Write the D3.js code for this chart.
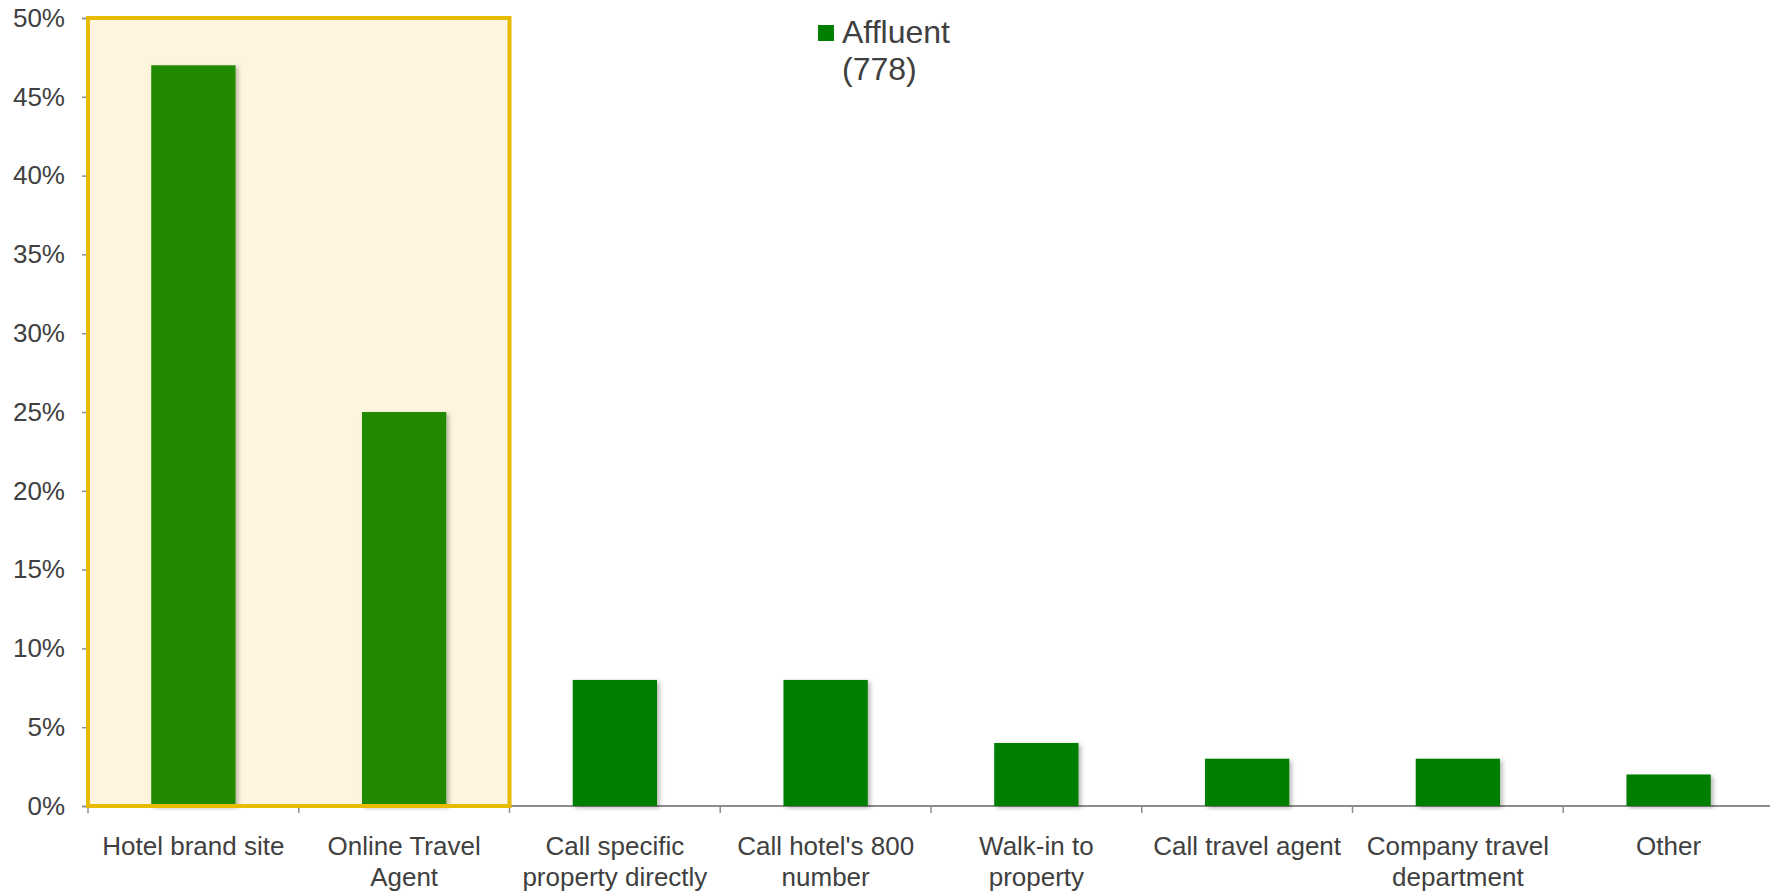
<!DOCTYPE html>
<html>
<head>
<meta charset="utf-8">
<script src="https://cdn.jsdelivr.net/npm/d3@7"></script>
<style>
  html, body { margin: 0; padding: 0; background: #ffffff; }
  svg { display: block; font-family: "Liberation Sans", Arial, sans-serif; }
</style>
</head>
<body>
<svg id="chart" width="1770" height="893"></svg>
<script>
// Booking channel shares for affluent travellers
const categories = [
  "Hotel brand site",
  "Online Travel Agent",
  "Call specific property directly",
  "Call hotel's 800 number",
  "Walk-in to property",
  "Call travel agent",
  "Company travel department",
  "Other"
];
const values = [0.47, 0.25, 0.08, 0.08, 0.04, 0.03, 0.03, 0.02];
const highlighted = ["Hotel brand site", "Online Travel Agent"];
const yTicks = [0, 0.05, 0.10, 0.15, 0.20, 0.25, 0.30, 0.35, 0.40, 0.45, 0.50];
const legendLines = ["Affluent", "(778)"];

const svg = d3.select("#chart");
const plotLeft = 88, plotRight = 1774, plotTop = 18, plotBottom = 806;
const textColor = "#404040";
const axisColor = "#8c8c8c";

const x = d3.scaleBand()
  .domain(categories)
  .range([plotLeft, plotRight])
  .paddingInner(0.6)
  .paddingOuter(0.3);

const y = d3.scaleLinear()
  .domain([0, 0.5])
  .range([plotBottom, plotTop]);

const step = x.step();
// left edge of each category slot
const slotStart = c => x(c) - x.paddingOuter() * step;

// soft shadow under the bars
const defs = svg.append("defs");
const f = defs.append("filter").attr("id", "barShadow")
  .attr("x", "-20%").attr("y", "-5%").attr("width", "140%").attr("height", "115%");
f.append("feDropShadow").attr("dx", 2.5).attr("dy", 2).attr("stdDeviation", 2)
  .attr("flood-color", "#000").attr("flood-opacity", 0.28);

// highlight panel behind the first two channels
const hx0 = slotStart(highlighted[0]);
const hx1 = slotStart(highlighted[highlighted.length - 1]) + step;
svg.append("rect")
  .attr("x", hx0).attr("y", y(0.5))
  .attr("width", hx1 - hx0).attr("height", y(0) - y(0.5))
  .attr("fill", "#fef5df");

// y axis
const yAxis = d3.axisLeft(y).tickValues(yTicks).tickFormat(d3.format(".0%")).tickSize(6).tickPadding(17);
const gy = svg.append("g").attr("transform", `translate(${plotLeft},0)`).call(yAxis);
gy.select(".domain").attr("stroke", axisColor).attr("stroke-width", 1.5);
gy.selectAll(".tick line").attr("stroke", axisColor).attr("stroke-width", 1.5);
gy.selectAll(".tick text").attr("fill", textColor).attr("font-size", 26)
  .attr("font-family", "'Liberation Sans', Arial, sans-serif");

// x axis baseline and category separators
const gx = svg.append("g");
gx.append("line")
  .attr("x1", plotLeft).attr("x2", plotRight)
  .attr("y1", y(0)).attr("y2", y(0))
  .attr("stroke", axisColor).attr("stroke-width", 2);
gx.selectAll("line.sep")
  .data(d3.range(categories.length + 1))
  .join("line").attr("class", "sep")
  .attr("x1", i => plotLeft + i * step).attr("x2", i => plotLeft + i * step)
  .attr("y1", y(0)).attr("y2", y(0) + 7)
  .attr("stroke", axisColor).attr("stroke-width", 1.5);

// bars
svg.append("g").selectAll("rect")
  .data(categories.map((c, i) => ({ c, v: values[i] })))
  .join("rect")
  .attr("x", d => x(d.c))
  .attr("y", d => y(d.v))
  .attr("width", x.bandwidth())
  .attr("height", d => y(0) - y(d.v))
  .attr("fill", d => highlighted.includes(d.c) ? "#238a00" : "#007e00")
  .attr("filter", "url(#barShadow)");

// highlight panel border on top
svg.append("rect")
  .attr("x", hx0).attr("y", y(0.5))
  .attr("width", hx1 - hx0).attr("height", y(0) - y(0.5))
  .attr("fill", "none")
  .attr("stroke", "#e8ba00").attr("stroke-width", 4);

// category labels, wrapped to the slot width
const labels = svg.append("g").attr("fill", textColor).attr("font-size", 26).attr("text-anchor", "middle");
categories.forEach(c => {
  const cx = x(c) + x.bandwidth() / 2;
  const t = labels.append("text").attr("x", cx).attr("y", y(0) + 49);
  const words = c.split(" ");
  let line = [];
  let tspan = t.append("tspan").attr("x", cx).attr("dy", 0);
  words.forEach(w => {
    line.push(w);
    tspan.text(line.join(" "));
    if (tspan.node().getComputedTextLength() > step - 4 && line.length > 1) {
      line.pop();
      tspan.text(line.join(" "));
      line = [w];
      tspan = t.append("tspan").attr("x", cx).attr("dy", 31).text(w);
    }
  });
});

// legend
const lg = svg.append("g").attr("transform", "translate(818,25)");
lg.append("rect").attr("width", 16).attr("height", 16).attr("fill", "#007e00");
lg.append("g").selectAll("text")
  .data(legendLines)
  .join("text")
  .attr("x", 24)
  .attr("y", (d, i) => 18 + i * 37)
  .attr("fill", textColor)
  .attr("font-size", 32)
  .text(d => d);
</script>
</body>
</html>
